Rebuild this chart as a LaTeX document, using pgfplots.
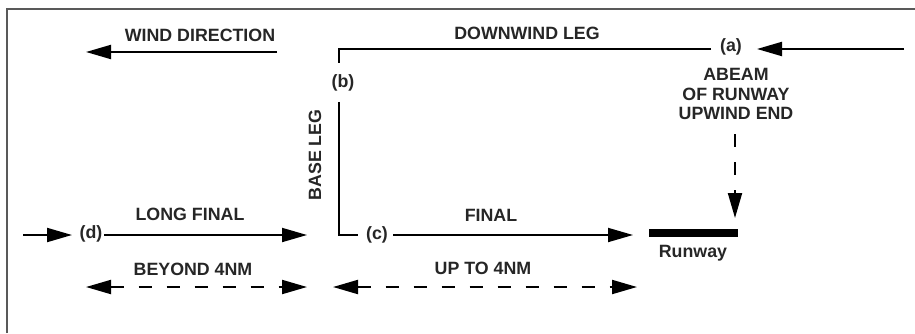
\documentclass[border=0pt]{standalone}
\usepackage{pgfplots}
\pgfplotsset{compat=1.18}
\usepackage{fontspec}
\setmainfont{Liberation Sans}
\usetikzlibrary{arrows.meta}
\begin{document}
\begin{tikzpicture}[
  lbl/.style={font=\fontsize{8.9}{10}\selectfont\bfseries, text=black!85, inner sep=0pt},
  big/.style={-{Triangle[length=12.5pt,width=7pt]}},
  bigboth/.style={{Triangle[length=12.5pt,width=7pt]}-{Triangle[length=12.5pt,width=7pt]}},
  small/.style={-{Triangle[length=3pt,width=2.6pt]}}
]
\begin{axis}[
  width=457.5pt, height=166.5pt, scale only axis,
  xmin=0, xmax=915, ymin=0, ymax=333, y dir=reverse,
  hide axis, clip=false
]
% frame
\addplot[draw=black!65, line width=1.3pt] coordinates {(7,333) (7,9) (915,9)};
% wind direction
\addplot[black, line width=1pt, big] coordinates {(277,52) (86,52)};
% downwind leg
\addplot[black, line width=1pt, big] coordinates {(904,49) (757,49)};
\addplot[black, line width=0.9pt, small] coordinates {(711,49) (339,49) (339,63)};
% base leg
\addplot[black, line width=0.9pt, small] coordinates {(339,102) (339,235) (358,235)};
% long final
\addplot[black, line width=1pt, big] coordinates {(23,235) (72,235)};
\addplot[black, line width=0.9pt, big] coordinates {(104,235) (307,235)};
% final
\addplot[black, line width=0.9pt, big] coordinates {(393,235) (633,235)};
% runway
\addplot[black, line width=3.6pt] coordinates {(649,233) (738,233)};
% abeam dashed
\addplot[black, line width=1pt, dash pattern=on 6.5pt off 7.5pt, big] coordinates {(735,134) (735,218)};
% distance arrows
\addplot[black, line width=1pt, dash pattern=on 6.5pt off 7.5pt, bigboth] coordinates {(86,287) (307,287)};
\addplot[black, line width=1pt, dash pattern=on 6.5pt off 7.5pt, bigboth] coordinates {(333,287) (637,287)};
% labels
\node[lbl, anchor=base] at (axis cs:200,42) {WIND DIRECTION};
\node[lbl, anchor=base] at (axis cs:527,40) {DOWNWIND LEG};
\node[lbl] at (axis cs:731,47) {(a)};
\node[lbl, anchor=base] at (axis cs:736,81) {ABEAM};
\node[lbl, anchor=base] at (axis cs:736,101) {OF RUNWAY};
\node[lbl, anchor=base] at (axis cs:736,120) {UPWIND END};
\node[lbl] at (axis cs:343,83) {(b)};
\node[lbl, anchor=base, rotate=90] at (axis cs:321,155) {BASE LEG};
\node[lbl] at (axis cs:377,235) {(c)};
\node[lbl] at (axis cs:91,234) {(d)};
\node[lbl, anchor=base] at (axis cs:190,220) {LONG FINAL};
\node[lbl, anchor=base] at (axis cs:491,221) {FINAL};
\node[lbl, anchor=base] at (axis cs:693,257) {Runway};
\node[lbl, anchor=base] at (axis cs:193,275) {BEYOND 4NM};
\node[lbl, anchor=base] at (axis cs:483,274) {UP TO 4NM};
\end{axis}
\pgfresetboundingbox
\path (current axis.south west) rectangle (current axis.north east);
\end{tikzpicture}
\end{document}
